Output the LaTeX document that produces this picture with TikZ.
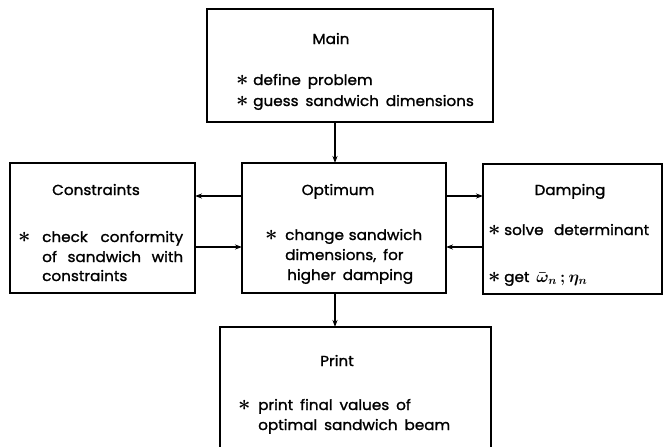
\documentclass[tikz,border=0pt]{standalone}
\usepackage{fontspec}
\setmainfont[FakeBold=1.3, FakeStretch=1.05, WordSpace=1.7]{Poppins}
\usetikzlibrary{arrows.meta}
\newcommand{\starline}[2]{\makebox[#1][l]{\scalebox{1.5}{\boldmath$\ast$}}#2}

\begin{document}
\begin{tikzpicture}[x=1pt, y=-1pt, >={Stealth[length=7pt,width=5pt]},
  box/.style={draw, line width=2.4pt, inner sep=0pt, outer sep=0pt},
  txt/.style={anchor=base west, inner sep=0pt, font=\fontsize{14.5}{17}\selectfont},
  ttl/.style={anchor=base, inner sep=0pt, font=\fontsize{14.5}{17}\selectfont},
  link/.style={->, line width=2.2pt}]
  \useasboundingbox (0,0) rectangle (664,447);
  \clip (0,0) rectangle (664,447);

  % Boxes
  \node[box, minimum width=286pt, minimum height=113pt] (main) at (350,65.5) {};
  \node[box, minimum width=185pt, minimum height=130pt] (cons) at (102.5,228) {};
  \node[box, minimum width=204pt, minimum height=130pt] (opt) at (344,228) {};
  \node[box, minimum width=179pt, minimum height=130pt] (damp) at (572.5,229) {};
  \node[box, minimum width=271pt, minimum height=146pt] (prn) at (355.5,400) {};

  % Main
  \node[ttl] (mainT) at (331,44) {Main};
  \node[txt] (mainA) at (236,85) {\starline{17pt}{define problem}};
  \node[txt] (mainB) at (236,106) {\starline{17pt}{guess sandwich dimensions}};

  % Constraints
  \node[ttl] (consT) at (96,195) {Constraints};
  \node[txt] (consA) at (18,242) {\starline{24pt}{\makebox[141pt][s]{check conformity}}};
  \node[txt] (consB) at (42,262) {\makebox[141pt][s]{of sandwich with}};
  \node[txt] (consC) at (42,281) {constraints};

  % Optimum
  \node[ttl] (optT) at (338,195) {Optimum};
  \node[txt] (optA) at (265,240) {\starline{20pt}{\makebox[137pt][s]{change sandwich}}};
  \node[txt] (optB) at (285,260) {dimensions, for};
  \node[txt] (optC) at (287,280) {higher damping};

  % Damping
  \node[ttl] (dampT) at (570,195) {Damping};
  \node[txt] (dampA) at (488,235) {\starline{16pt}{\makebox[145pt][s]{solve determinant}}};
  \node[txt] (dampB) at (488,282) {\starline{16pt}{get \scalebox{1.15}{\boldmath$\bar{\omega}_n\,{;}\,\eta_n$}}};

  % Print
  \node[ttl] (prnT) at (337,366) {Print};
  \node[txt] (prnA) at (238,410) {\starline{20pt}{print final values of}};
  \node[txt] (prnB) at (258,430) {optimal sandwich beam};

  % Arrows
  \coordinate (hi) at (0,196);
  \coordinate (lo) at (0,247);
  \coordinate (vx) at (335,0);
  \draw[link] (main.south -| vx) -- (opt.north -| vx);
  \draw[link] (opt.south -| vx) -- (prn.north -| vx);
  \draw[link] (opt.west |- hi) -- (cons.east |- hi);
  \draw[link] (cons.east |- lo) -- (opt.west |- lo);
  \draw[link] (opt.east |- hi) -- (damp.west |- hi);
  \draw[link] (damp.west |- lo) -- (opt.east |- lo);
\end{tikzpicture}
\end{document}
